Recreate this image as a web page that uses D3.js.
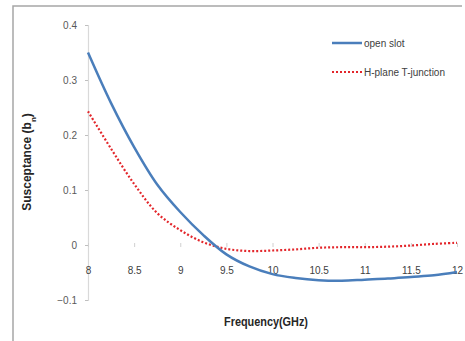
<!DOCTYPE html>
<html>
<head>
<meta charset="utf-8">
<script src="https://cdn.jsdelivr.net/npm/d3@7"></script>
<style>
  body { margin: 0; background: #fff; }
  svg { display: block; }
  text { font-family: "Liberation Sans", Arial, sans-serif; }
</style>
</head>
<body>
<svg id="chart" width="465" height="341"></svg>
<script>
// frequency samples (GHz)
var freq = [8, 8.25, 8.5, 8.75, 9, 9.25, 9.5, 9.75, 10, 10.25, 10.5, 10.75, 11, 11.25, 11.5, 11.75, 12];
// normalised susceptance, open slot
var openSlot = [0.350, 0.258, 0.178, 0.110, 0.060, 0.018, -0.017, -0.039, -0.053, -0.060, -0.064, -0.065, -0.063, -0.061, -0.058, -0.055, -0.049];
// normalised susceptance, H-plane T-junction
var hPlane = [0.243, 0.175, 0.111, 0.058, 0.027, 0.005, -0.007, -0.011, -0.010, -0.008, -0.005, -0.004, -0.004, -0.003, -0.001, 0.002, 0.004];
var xTicks = [8, 8.5, 9, 9.5, 10, 10.5, 11, 11.5, 12];
var yTicks = [-0.1, 0, 0.1, 0.2, 0.3, 0.4];
var seriesNames = ["open slot", "H-plane T-junction"];

var svg = d3.select("#chart");

// outer frame (left + top edges only visible)
svg.append("path")
    .attr("d", "M13,341V6H462")
    .attr("fill", "none")
    .attr("stroke", "#a6a6a6")
    .attr("stroke-width", 1.5);

var x = d3.scaleLinear().domain([8, 12]).range([88, 457]);
var y = d3.scaleLinear().domain([-0.1, 0.4]).range([300, 25]);

// y axis
var yAxis = d3.axisLeft(y)
    .tickValues(yTicks)
    .tickSize(3)
    .tickPadding(8)
    .tickFormat(function(d) { return d === 0 ? "0" : d3.format("")(+d.toFixed(1)); });
var gy = svg.append("g")
    .attr("transform", "translate(" + x(8) + ",0)")
    .call(yAxis);
gy.select(".domain").attr("stroke", "#d9d9d9").attr("stroke-width", 1.2);
gy.selectAll(".tick line").attr("stroke", "#bfbfbf");
gy.selectAll(".tick text").attr("fill", "#595959").style("font-size", "10px");

// x axis sitting on zero, labels pushed low
var xAxis = d3.axisBottom(x)
    .tickValues(xTicks)
    .tickSize(4)
    .tickPadding(18)
    .tickFormat(d3.format(""));
var gx = svg.append("g")
    .attr("transform", "translate(0," + y(0) + ")")
    .call(xAxis);
gx.select(".domain").remove();
gx.selectAll(".tick line").attr("stroke", "#d0d0d0").attr("transform", "translate(0,-2)");
gx.selectAll(".tick text").attr("fill", "#404040").style("font-size", "10px");

var line = d3.line()
    .x(function(d) { return x(d[0]); })
    .y(function(d) { return y(d[1]); })
    .curve(d3.curveCatmullRom);

svg.append("path")
    .datum(d3.zip(freq, hPlane))
    .attr("d", line)
    .attr("fill", "none")
    .attr("stroke", "#e3262b")
    .attr("stroke-width", 2.2)
    .attr("stroke-dasharray", "2,2");

svg.append("path")
    .datum(d3.zip(freq, openSlot))
    .attr("d", line)
    .attr("fill", "none")
    .attr("stroke", "#4a7ebb")
    .attr("stroke-width", 2.5);

// legend
var legend = svg.append("g");
var lg = [
    { name: seriesNames[0], y: 43, color: "#4a7ebb", dash: null, w: 2.5 },
    { name: seriesNames[1], y: 72, color: "#e3262b", dash: "2,2", w: 2.2 }
];
lg.forEach(function(l) {
    legend.append("line")
        .attr("x1", 332).attr("x2", 362)
        .attr("y1", l.y).attr("y2", l.y)
        .attr("stroke", l.color)
        .attr("stroke-width", l.w)
        .attr("stroke-dasharray", l.dash);
    legend.append("text")
        .attr("x", 364).attr("y", l.y + 3.5)
        .attr("fill", "#404040")
        .style("font-size", "10px")
        .text(l.name);
});

// axis titles
var yt = svg.append("text")
    .attr("transform", "translate(31,162) rotate(-90)")
    .attr("text-anchor", "middle")
    .attr("fill", "#262626")
    .style("font-size", "12px")
    .style("font-weight", "bold");
yt.append("tspan").text("Susceptance (b");
yt.append("tspan").attr("baseline-shift", "sub").style("font-size", "8px").text("n");
yt.append("tspan").text(")");

svg.append("text")
    .attr("x", 266).attr("y", 326)
    .attr("text-anchor", "middle")
    .attr("fill", "#262626")
    .attr("textLength", 84)
    .attr("lengthAdjust", "spacingAndGlyphs")
    .style("font-size", "12px")
    .style("font-weight", "bold")
    .text("Frequency(GHz)");
</script>
</body>
</html>
